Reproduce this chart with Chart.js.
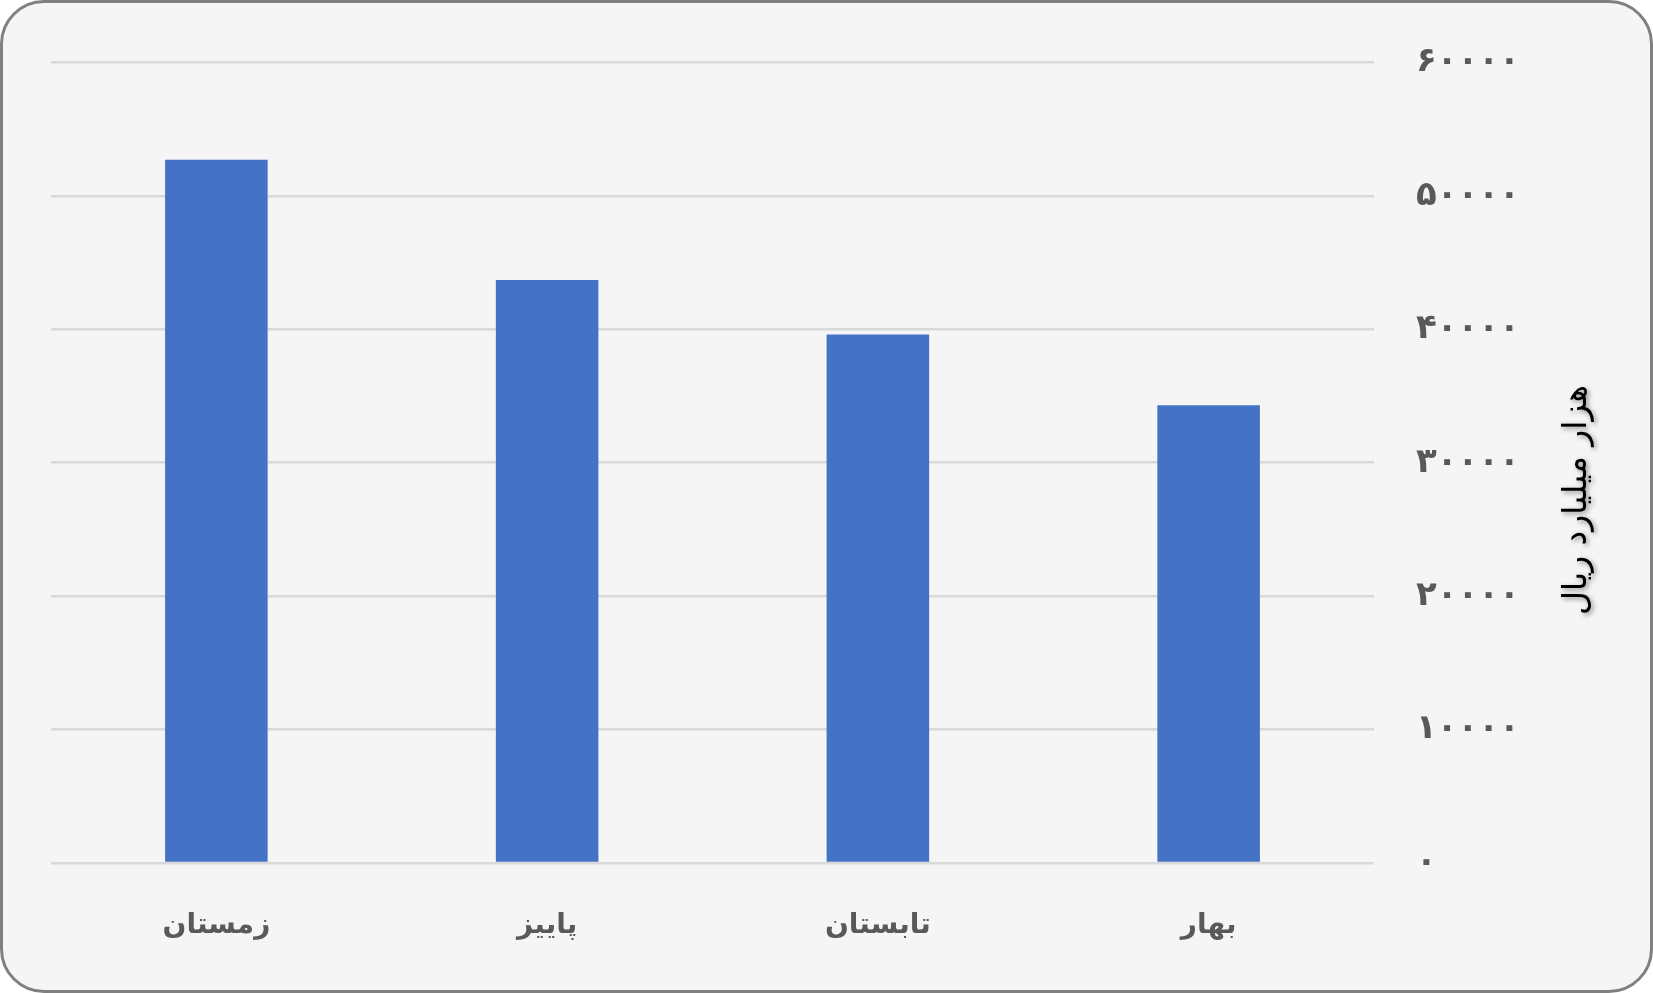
<!DOCTYPE html>
<html>
<head>
<meta charset="utf-8">
<script src="https://cdn.jsdelivr.net/npm/chart.js@4/dist/chart.umd.min.js"></script>
<style>
    html, body { margin: 0; padding: 0; background: #ffffff; }
    .frame {
        position: absolute; left: 0; top: 0;
        width: 1647px; height: 987px;
        border: 3px solid #808080;
        border-radius: 44px;
        background: #f5f5f5;
    }
    .chart-box { position: absolute; left: 0; top: 0; width: 1653px; height: 993px; }
</style>
</head>
<body>
<div class="frame"></div>
<div class="chart-box"><canvas id="seasonChart"></canvas></div>
<script>
// seasons, in data order (x axis is reversed so spring sits on the right)
const seasons = ['بهار', 'تابستان', 'پاییز', 'زمستان'];
const values = [34300, 39600, 43700, 52700];
const axisTitle = 'هزار میلیارد ریال';
const yMin = 0;
const yMax = 60000;
const yStep = 10000;

const persianDigits = '۰۱۲۳۴۵۶۷۸۹';
function toPersian(n) {
    return String(n).replace(/\d/g, d => persianDigits[d]);
}

// y title sits right of the ticks but reads bottom-to-top like a left axis title
const rotatedTitle = {
    id: 'rotatedTitle',
    afterDraw(chart) {
        const ctx = chart.ctx;
        ctx.save();
        ctx.translate(1577, 500);
        ctx.rotate(-Math.PI / 2);
        ctx.font = '33px "DejaVu Sans"';
        ctx.textAlign = 'center';
        ctx.textBaseline = 'middle';
        ctx.shadowColor = 'rgba(0,0,0,0.45)';
        ctx.shadowBlur = 5;
        ctx.shadowOffsetX = 2;
        ctx.shadowOffsetY = 2;
        ctx.fillStyle = '#000000';
        ctx.fillText(axisTitle, 0, 0);
        ctx.restore();
    }
};

const ctx = document.getElementById('seasonChart').getContext('2d');
new Chart(ctx, {
    type: 'bar',
    data: {
        labels: seasons,
        datasets: [{
            data: values,
            backgroundColor: '#4472c4',
            borderWidth: 0,
            barPercentage: 0.31,
            categoryPercentage: 1
        }]
    },
    options: {
        responsive: true,
        maintainAspectRatio: false,
        animation: false,
        layout: {
            padding: { left: 51, top: 54.5, right: 0, bottom: 0 }
        },
        plugins: {
            legend: { display: false },
            tooltip: { enabled: false }
        },
        scales: {
            x: {
                reverse: true,
                grid: { display: false, drawTicks: false },
                border: { display: false },
                ticks: {
                    color: '#595959',
                    font: { family: 'DejaVu Sans', size: 28, weight: 'bold' },
                    padding: 46
                },
                afterFit(scale) { scale.height = 130; }
            },
            y: {
                position: 'right',
                min: yMin,
                max: yMax,
                grid: { color: '#d9d9d9', lineWidth: 2.5, drawTicks: false },
                border: { display: false },
                ticks: {
                    stepSize: yStep,
                    color: '#595959',
                    font: { family: 'DejaVu Sans', size: 34, weight: 'bold' },
                    padding: 42,
                    callback: v => toPersian(v)
                },
                afterFit(scale) { scale.width = 279; }
            }
        }
    },
    plugins: [rotatedTitle]
});
</script>
</body>
</html>
